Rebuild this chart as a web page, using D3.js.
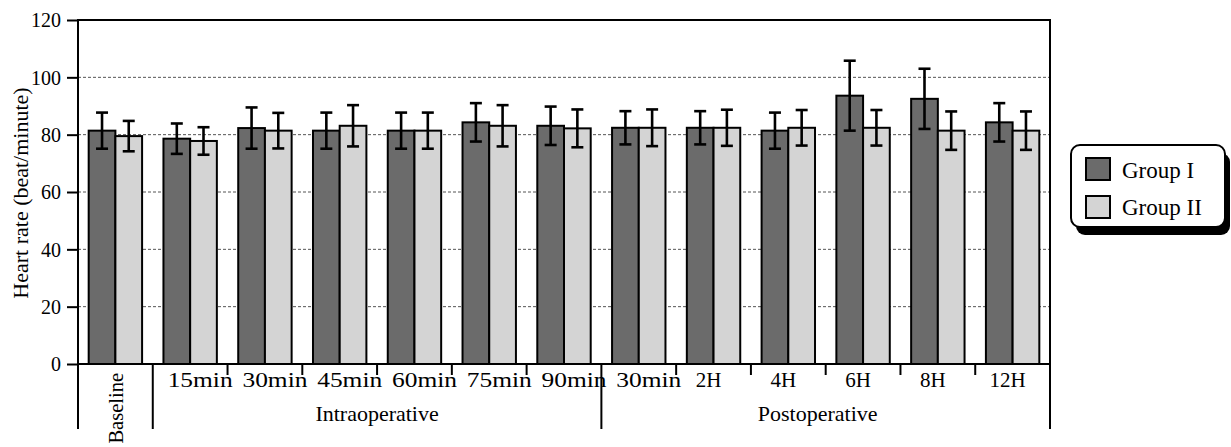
<!DOCTYPE html>
<html>
<head>
<meta charset="utf-8">
<script src="https://cdn.jsdelivr.net/npm/d3@7"></script>
<style>
  html, body { margin: 0; padding: 0; background: #fff; }
  svg { display: block; }
  text { font-family: "Liberation Serif", "Times New Roman", serif; fill: #000; }
</style>
</head>
<body>
<svg id="chart" width="1231" height="447"></svg>
<script>
// ---- data ----
const categories = ["Baseline", "15min", "30min", "45min", "60min", "75min", "90min", "30min", "2H", "4H", "6H", "8H", "12H"];
const seriesNames = ["Group I", "Group II"];
const group1Mean = [81.4, 78.6, 82.3, 81.4, 81.4, 84.3, 83.1, 82.4, 82.4, 81.4, 93.6, 92.5, 84.3];
const group1SD   = [6.3, 5.3, 7.2, 6.3, 6.3, 6.7, 6.7, 5.8, 5.8, 6.3, 12.2, 10.5, 6.7];
const group2Mean = [79.5, 77.8, 81.4, 83.1, 81.4, 83.1, 82.2, 82.4, 82.4, 82.4, 82.4, 81.4, 81.4];
const group2SD   = [5.3, 4.8, 6.2, 7.2, 6.3, 7.2, 6.6, 6.4, 6.3, 6.2, 6.2, 6.7, 6.7];
const yTicks = [0, 20, 40, 60, 80, 100, 120];
const gridValues = [20, 40, 60, 80, 100];
const phaseLabels = ["Intraoperative", "Postoperative"];
const phaseFirst = [1, 7];
const phaseLast = [6, 12];
const yTitle = "Heart rate (beat/minute)";

// ---- layout ----
const svg = d3.select("#chart");
const L = 78, R = 1050, T = 20, B = 364;
const colors = ["#6b6b6b", "#d4d4d4"];

const idx = categories.map((d, i) => i);
const x0 = d3.scaleBand().domain(idx).range([L, R]).padding(0);
const x1 = d3.scaleBand().domain([0, 1]).range([0, x0.bandwidth()]).paddingInner(0).paddingOuter(0.4);
const y = d3.scaleLinear().domain([0, 120]).range([B, T]);

// gridlines
svg.append("g").selectAll("line").data(gridValues).join("line")
  .attr("x1", L).attr("x2", R)
  .attr("y1", d => y(d)).attr("y2", d => y(d))
  .attr("stroke", "#555").attr("stroke-width", 1).attr("stroke-dasharray", "3,2");

// bars
const rows = idx.map(i => [
  {i, s: 0, m: group1Mean[i], sd: group1SD[i]},
  {i, s: 1, m: group2Mean[i], sd: group2SD[i]}
]).flat();

svg.append("g").selectAll("rect").data(rows).join("rect")
  .attr("x", d => x0(d.i) + x1(d.s))
  .attr("width", x1.bandwidth())
  .attr("y", d => y(d.m))
  .attr("height", d => y(0) - y(d.m))
  .attr("fill", d => colors[d.s])
  .attr("stroke", "#000").attr("stroke-width", 2);

// error bars
const eb = svg.append("g").attr("stroke", "#000").attr("stroke-width", 2.6);
rows.forEach(d => {
  const cx = x0(d.i) + x1(d.s) + x1.bandwidth() / 2;
  eb.append("line").attr("x1", cx).attr("x2", cx).attr("y1", y(d.m + d.sd)).attr("y2", y(d.m - d.sd));
  eb.append("line").attr("x1", cx - 6).attr("x2", cx + 6).attr("y1", y(d.m + d.sd)).attr("y2", y(d.m + d.sd));
  eb.append("line").attr("x1", cx - 6).attr("x2", cx + 6).attr("y1", y(d.m - d.sd)).attr("y2", y(d.m - d.sd));
});

// frame: top
svg.append("line").attr("x1", L).attr("x2", R).attr("y1", T).attr("y2", T).attr("stroke", "#000").attr("stroke-width", 2);

// y axis
const yAxis = d3.axisLeft(y).tickValues(yTicks).tickSize(11).tickPadding(6);
const yg = svg.append("g").attr("transform", `translate(${L},0)`).call(yAxis);
yg.select(".domain").remove();
yg.selectAll(".tick line").attr("stroke", "#000").attr("stroke-width", 2);
yg.selectAll(".tick text").attr("font-size", 20).attr("font-family", "Liberation Serif").attr("dy", "0.34em");

// x axis line
svg.append("line").attr("x1", L - 1).attr("x2", R + 1).attr("y1", B).attr("y2", B).attr("stroke", "#000").attr("stroke-width", 2);

// left and right vertical lines (extended as dividers)
const DIV_BOTTOM = 429;
svg.append("line").attr("x1", L).attr("x2", L).attr("y1", T - 1).attr("y2", DIV_BOTTOM).attr("stroke", "#000").attr("stroke-width", 2);
svg.append("line").attr("x1", R).attr("x2", R).attr("y1", T - 1).attr("y2", DIV_BOTTOM).attr("stroke", "#000").attr("stroke-width", 2);

// dividers between phases
const dividers = [1, 7];
svg.append("g").selectAll("line").data(dividers).join("line")
  .attr("x1", d => x0(d)).attr("x2", d => x0(d))
  .attr("y1", B).attr("y2", DIV_BOTTOM)
  .attr("stroke", "#000").attr("stroke-width", 2);

// short ticks inside phases
const shortTicks = idx.filter(i => i > 1 && i !== 7);
svg.append("g").selectAll("line").data(shortTicks).join("line")
  .attr("x1", d => x0(d)).attr("x2", d => x0(d))
  .attr("y1", B).attr("y2", B + 11)
  .attr("stroke", "#000").attr("stroke-width", 2);

// category labels
const lab = svg.append("g").attr("font-size", 21);
idx.forEach(i => {
  const c = categories[i];
  const cx = x0(i) + x0.bandwidth() / 2;
  if (i === 0) {
    lab.append("text")
      .attr("transform", `translate(${cx + 8},373) rotate(-90)`)
      .attr("text-anchor", "end").attr("font-size", 20.5)
      .text(c);
  } else if (c.endsWith("min")) {
    lab.append("text").attr("x", cx + 10).attr("y", 387)
      .attr("text-anchor", "middle")
      .attr("textLength", 65).attr("lengthAdjust", "spacingAndGlyphs")
      .text(c);
  } else {
    lab.append("text").attr("x", cx - 5).attr("y", 387)
      .attr("text-anchor", "middle").text(c);
  }
});

// phase labels
phaseLabels.forEach((p, k) => {
  const a = x0(phaseFirst[k]), b = x0(phaseLast[k]) + x0.bandwidth();
  svg.append("text").attr("x", (a + b) / 2 - (k === 1 ? 8 : 0)).attr("y", 421)
    .attr("text-anchor", "middle").attr("font-size", 22).text(p);
});

// y title
svg.append("text").attr("transform", `translate(28,${(T + B) / 2 + 1}) rotate(-90)`)
  .attr("text-anchor", "middle").attr("font-size", 22).text(yTitle);

// legend
const lg = svg.append("g").attr("transform", "translate(1071,145)");
lg.append("rect").attr("x", 5).attr("y", 8).attr("width", 154).attr("height", 82).attr("rx", 9).attr("fill", "#000");
lg.append("rect").attr("x", 0).attr("y", 0).attr("width", 154).attr("height", 82).attr("rx", 9)
  .attr("fill", "#fff").attr("stroke", "#000").attr("stroke-width", 2);
seriesNames.forEach((s, k) => {
  lg.append("rect").attr("x", 15).attr("y", 13 + k * 38).attr("width", 24).attr("height", 22)
    .attr("fill", colors[k]).attr("stroke", "#000").attr("stroke-width", 2);
  lg.append("text").attr("x", 51).attr("y", 33 + k * 37).attr("font-size", 23).text(s);
});
</script>
</body>
</html>
